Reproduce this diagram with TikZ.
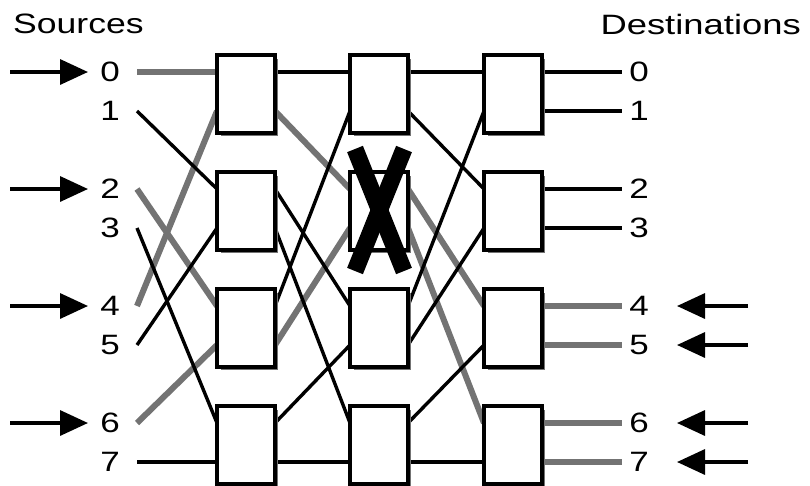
\documentclass[tikz,border=0pt]{standalone}
\usepackage{fontspec}
\setmainfont{Liberation Sans}
\usetikzlibrary{arrows.meta}
\newcommand\wide[1]{\scalebox{1.25}[1]{#1}}
\begin{document}
\begin{tikzpicture}[x=1pt,y=-1pt,
  lbl/.style={inner sep=0pt, font=\fontsize{28}{30}\selectfont},
  box/.style={draw, line width=3.2pt, fill=white, minimum width=58pt, minimum height=78pt, inner sep=0pt, outer sep=0pt},
  blk/.style={line width=3.4pt, black},
  gry/.style={line width=6pt, black!55},
  shadowln/.style={line width=2.6pt, black!55},
  arr/.style={line width=3.4pt, -{Triangle[length=28pt,width=25pt]}},
  crossln/.style={line width=17pt, black}
]
\useasboundingbox (0,0) rectangle (810,485);

\node[lbl, anchor=west] (srct) at (13,24) {\scalebox{1.27}[1]{Sources}};
\node[lbl, anchor=east] (dstt) at (801,24) {\scalebox{1.3}[1]{Destinations}};

\foreach \j/\y in {0/72,1/111,2/189,3/228,4/306,5/345,6/423,7/462} {
  \coordinate (sp\j) at (137,\y);
  \coordinate (i1\j) at (217,\y); \coordinate (o1\j) at (275,\y);
  \coordinate (i2\j) at (350,\y); \coordinate (o2\j) at (408,\y);
  \coordinate (i3\j) at (484,\y); \coordinate (o3\j) at (542,\y);
  \coordinate (dp\j) at (622,\y);
  \coordinate (la\j) at (10,\y); \coordinate (ta\j) at (88,\y);
  \coordinate (ra\j) at (748,\y); \coordinate (rt\j) at (677,\y);
  \node[lbl] (sl\j) at (110,\y) {\wide{\j}};
  \node[lbl] (dl\j) at (639,\y) {\wide{\j}};
}

% gray (active) paths
\foreach \a/\b in {0/0,2/4,4/1,6/5} \draw[gry] (sp\a) -- (i1\b);
\foreach \a/\b in {1/2,5/3} \draw[gry] (o1\a) -- (i2\b);
\foreach \a/\b in {2/4,3/6} \draw[gry] (o2\a) -- (i3\b);
\foreach \a in {4,5,6,7} \draw[gry] (o3\a) -- (dp\a);

% black paths
\foreach \a/\b in {1/2,3/6,5/3,7/7} \draw[blk] (sp\a) -- (i1\b);
\foreach \a/\b in {0/0,2/4,3/6,4/1,6/5,7/7} \draw[blk] (o1\a) -- (i2\b);
\foreach \a/\b in {0/0,1/2,4/1,5/3,6/5,7/7} \draw[blk] (o2\a) -- (i3\b);
\foreach \a in {0,1,2,3} \draw[blk] (o3\a) -- (dp\a);

% switches
\foreach \s/\L in {1/217,2/350,3/484} {
  \foreach \k in {0,1,2,3} {
    \pgfmathsetmacro\T{55+117*\k}
    \draw[shadowln] (\L+60,\T+4) -- (\L+60,\T+80) -- (\L+4,\T+80);
    \node[box,anchor=north west] (b\s\k) at (\L,\T) {};
  }
}

% failed switch
\coordinate (xa) at (355,149); \coordinate (xb) at (404,271);
\coordinate (xc) at (404,149); \coordinate (xd) at (355,271);
\draw[crossln] (xa) -- (xb);
\draw[crossln] (xc) -- (xd);

% arrows
\foreach \j in {0,2,4,6} \draw[arr] (la\j) -- (ta\j);
\foreach \j in {4,5,6,7} \draw[arr] (ra\j) -- (rt\j);
\end{tikzpicture}
\end{document}
